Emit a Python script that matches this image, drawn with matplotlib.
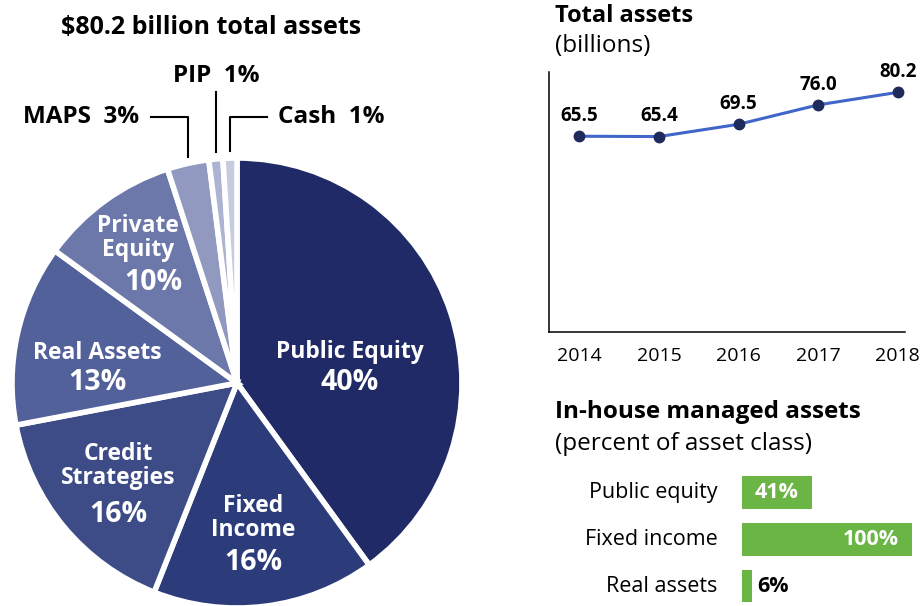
import matplotlib
matplotlib.use("Agg")
import matplotlib.pyplot as plt
import numpy as np

plt.rcParams['font.family'] = ['Open Sans', 'DejaVu Sans']

# pie: asset allocation
classes = ['Public Equity', 'Fixed\nIncome', 'Credit\nStrategies', 'Real Assets',
           'Private\nEquity', 'MAPS', 'PIP', 'Cash']
shares = [40, 16, 16, 13, 10, 3, 1, 1]
pie_colors = ['#1f2a66', '#2c3b79', '#3d4c87', '#53619b', '#6c78a9',
              '#9199c0', '#adb4d2', '#c6cbdf']

# line: total assets (billions)
years = [2014, 2015, 2016, 2017, 2018]
assets = [65.5, 65.4, 69.5, 76.0, 80.2]

# bars: in-house managed share
inhouse_cats = ['Public equity', 'Fixed income', 'Real assets']
inhouse_pct = [41, 100, 6]

W, H = 923, 606
fig = plt.figure(figsize=(W / 100, H / 100), dpi=100)


def px(x, y):
    # pixel position (from top-left) -> figure fraction
    return x / W, 1 - y / H


# ---- pie ----
cx, cy, r = 237, 383, 225
axp = fig.add_axes([(cx - r) / W, (H - cy - r) / H, 2 * r / W, 2 * r / H])
wedges, _ = axp.pie(shares, colors=pie_colors, startangle=90, counterclock=False,
                    radius=1, wedgeprops=dict(edgecolor='white', linewidth=4))
axp.set_xlim(-1, 1)
axp.set_ylim(-1, 1)
axp.set_aspect('equal')
axp.axis('off')


def pd(x, y):
    # pixel position -> pie data coords
    return (x - cx) / r, (cy - y) / r


# (name centre, percent centre) in pixels
inner_pos = {0: ((350, 352), (350, 382)),
             1: ((253, 518), (253, 562)),
             2: ((118, 466), (118, 515)),
             3: ((97, 353), (97, 382)),
             4: ((138, 238), (153, 282))}
for i, (npos, ppos) in inner_pos.items():
    axp.text(*pd(*npos), classes[i], color='white', fontsize=16.5,
             fontweight='bold', ha='center', va='center', linespacing=0.95)
    axp.text(*pd(*ppos), f"{shares[i]}%", color='white', fontsize=20.5,
             fontweight='bold', ha='center', va='center')

# leader lines for the small slices
mids = {}
for w, name in zip(wedges, classes):
    mids[name] = np.deg2rad((w.theta1 + w.theta2) / 2)

elbow_y = (cy - 117) / r
for name, side in [('MAPS', -1), ('Cash', 1)]:
    a = mids[name]
    x0 = np.cos(a)
    y0 = np.sin(a) + 0.03
    x1 = x0 + side * 0.165
    axp.plot([x0, x0, x1], [y0, elbow_y, elbow_y], color='black', lw=1.5,
             clip_on=False)
    pct = shares[classes.index(name)]
    axp.text(x1 + side * 0.05, elbow_y, f"{name}  {pct}%", fontsize=17.5,
             fontweight='bold', ha='right' if side < 0 else 'left', va='center')

a = mids['PIP']
axp.plot([np.cos(a), np.cos(a)], [np.sin(a) + 0.03, (cy - 92) / r], color='black',
         lw=1.5, clip_on=False)
axp.text(np.cos(a), (cy - 76) / r, f"PIP  {shares[6]}%", fontsize=17.5,
         fontweight='bold', ha='center', va='center')

fig.text(*px(211, 27), "$80.2 billion total assets", fontsize=18,
         fontweight='bold', ha='center', va='center')

# ---- line chart ----
axl = fig.add_axes([549 / W, (H - 332) / H, 356 / W, 260 / H])
axl.plot(years, assets, color='#4166c9', lw=2.2, marker='o', markersize=7.5,
         markerfacecolor='#1f2a5c', markeredgecolor='#1f2a5c', zorder=3)
for yr, v in zip(years, assets):
    axl.annotate(f"{v:.1f}", (yr, v), xytext=(0, 14.5), textcoords='offset points',
                 ha='center', va='center', fontsize=13.5, fontweight='bold')
axl.set_xlim(2013.62, 2018.09)
axl.set_ylim(0, 87)
axl.set_xticks(years)
axl.set_xticklabels([str(y) for y in years], fontsize=14)
axl.tick_params(axis='x', length=0, pad=11)
axl.set_yticks([])
for s in ['top', 'right']:
    axl.spines[s].set_visible(False)
for s in ['left', 'bottom']:
    axl.spines[s].set_linewidth(1.1)

fig.text(*px(555, 16), "Total assets", fontsize=17, fontweight='bold',
         ha='left', va='center')
fig.text(*px(555, 46), "(billions)", fontsize=17.5, ha='left', va='center')

# ---- bar chart ----
axb = fig.add_axes([742 / W, (H - 609.5) / H, 170 / W, 140.5 / H])
ypos = np.arange(len(inhouse_cats))
axb.barh(ypos, inhouse_pct, height=0.7, color='#6bb545')
axb.set_xlim(0, 100)
axb.set_ylim(2.5, -0.5)
axb.axis('off')
for yp, cat, v in zip(ypos, inhouse_cats, inhouse_pct):
    axb.text(-14.5, yp, cat, ha='right', va='center', fontsize=15.5)
    if v >= 20:
        axb.text(v - 8, yp, f"{v}%", ha='right', va='center', fontsize=15.5,
                 fontweight='bold', color='white')
    else:
        axb.text(v + 3, yp, f"{v}%", ha='left', va='center', fontsize=15.5,
                 fontweight='bold', color='black')

fig.text(*px(555, 412), "In-house managed assets", fontsize=17.5,
         fontweight='bold', ha='left', va='center')
fig.text(*px(555, 444), "(percent of asset class)", fontsize=17.5,
         ha='left', va='center')

fig.savefig("out.png", dpi=100, facecolor='white')
